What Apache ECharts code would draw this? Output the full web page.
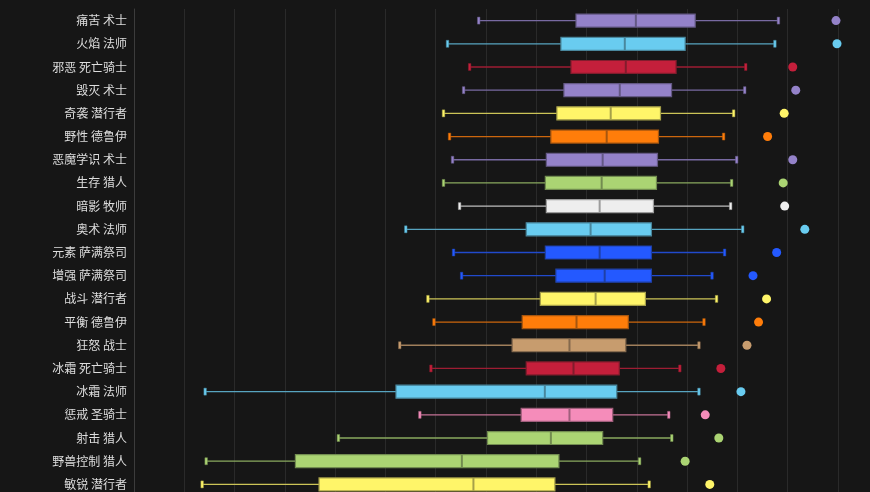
<!DOCTYPE html>
<html>
<head>
<meta charset="utf-8">
<script src="https://cdn.jsdelivr.net/npm/echarts@6/dist/echarts.min.js"></script>
<style>
html,body{margin:0;padding:0;background:#161616;overflow:hidden;}
#chart{width:870px;height:500px;}
</style>
</head>
<body>
<div id="chart"></div>
<script>
const categories = ['痛苦 术士','火焰 法师','邪恶 死亡骑士','毁灭 术士','奇袭 潜行者','野性 德鲁伊','恶魔学识 术士','生存 猎人','暗影 牧师','奥术 法师','元素 萨满祭司','增强 萨满祭司','战斗 潜行者','平衡 德鲁伊','狂怒 战士','冰霜 死亡骑士','冰霜 法师','惩戒 圣骑士','射击 猎人','野兽控制 猎人','敏锐 潜行者'];
const lowValues =     [68.5, 62.3, 66.7, 65.5, 61.5, 62.7, 63.3, 61.5, 64.7, 54.0, 63.5, 65.1, 58.4, 59.6, 52.8, 59.0, 14.1, 56.8, 40.6, 14.3, 13.5];
const q1Values =      [87.9, 84.9, 86.9, 85.5, 84.1, 82.9, 82.0, 81.8, 82.0, 78.0, 81.8, 83.9, 80.8, 77.2, 75.2, 78.0, 52.1, 77.0, 70.3, 32.1, 36.8];
const medianValues =  [99.8, 97.6, 97.8, 96.6, 94.8, 94.0, 93.2, 93.0, 92.6, 90.8, 92.6, 93.6, 91.8, 88.0, 86.6, 87.4, 81.7, 86.6, 82.9, 65.2, 67.5];
const q3Values =      [111.6, 109.6, 107.8, 106.9, 104.7, 104.3, 104.1, 103.9, 103.3, 102.9, 102.9, 102.9, 101.7, 98.3, 97.8, 96.5, 96.0, 95.2, 93.2, 84.5, 83.7];
const highValues =    [128.2, 127.5, 121.7, 121.5, 119.3, 117.3, 119.9, 118.9, 118.7, 121.1, 117.5, 115.0, 115.9, 113.4, 112.4, 108.6, 112.4, 106.4, 107.0, 100.6, 102.5];
const outlierValues = [139.6, 139.8, 131.0, 131.6, 129.3, 126.0, 131.0, 129.1, 129.4, 133.4, 127.8, 123.1, 125.8, 124.2, 121.9, 116.7, 120.7, 113.6, 116.3, 109.6, 114.5];
const rowColors = ['#9482C9','#69CCF0','#C41F3B','#9482C9','#FFF569','#FF7D0A','#9482C9','#ABD473','#EEEEEE','#69CCF0','#2459FF','#2459FF','#FFF569','#FF7D0A','#C79C6E','#C41F3B','#69CCF0','#F58CBA','#ABD473','#ABD473','#FFF569'];

const BG = '#161616';
function mix(hex, f) {
  const c = parseInt(hex.slice(1), 16);
  const b = parseInt(BG.slice(1), 16);
  const ch = (s) => Math.round(((c >> s) & 255) * f + ((b >> s) & 255) * (1 - f));
  return 'rgb(' + ch(16) + ',' + ch(8) + ',' + ch(0) + ')';
}

const boxData = categories.map((c, i) => [i, lowValues[i], q1Values[i], medianValues[i], q3Values[i], highValues[i]]);
const outlierData = categories.map((c, i) => ({ value: [outlierValues[i], i], itemStyle: { color: rowColors[i], opacity: 1 } }));

function renderItem(params, api) {
  const i = api.value(0);
  const lo = api.coord([api.value(1), i]);
  const q1 = api.coord([api.value(2), i]);
  const md = api.coord([api.value(3), i]);
  const q3 = api.coord([api.value(4), i]);
  const hi = api.coord([api.value(5), i]);
  const band = api.size([0, 1])[1];
  const h = band * 0.56;
  const y = lo[1];
  const col = rowColors[i];
  const dark = mix(col, 0.62);
  const wcol = mix(col, 0.78);
  const capH = 7;
  return {
    type: 'group',
    children: [
      { type: 'line', shape: { x1: lo[0], y1: y, x2: q1[0], y2: y }, style: { stroke: wcol, lineWidth: 1.3 } },
      { type: 'line', shape: { x1: q3[0], y1: y, x2: hi[0], y2: y }, style: { stroke: wcol, lineWidth: 1.3 } },
      { type: 'rect', shape: { x: lo[0] - 1, y: y - capH / 2, width: 2.5, height: capH }, style: { fill: col, stroke: dark, lineWidth: 0.5 } },
      { type: 'rect', shape: { x: hi[0] - 1.5, y: y - capH / 2, width: 2.5, height: capH }, style: { fill: col, stroke: dark, lineWidth: 0.5 } },
      { type: 'rect', shape: { x: q1[0], y: y - h / 2, width: q3[0] - q1[0], height: h }, style: { fill: col, stroke: dark, lineWidth: 1.2 } },
      { type: 'line', shape: { x1: md[0], y1: y - h / 2, x2: md[0], y2: y + h / 2 }, style: { stroke: dark, lineWidth: 2 } }
    ]
  };
}

const chart = echarts.init(document.getElementById('chart'));
chart.setOption({
  backgroundColor: BG,
  animation: false,
  grid: { left: 134, right: 32, top: 9, bottom: 4 },
  xAxis: {
    type: 'value', min: 0, max: 140, interval: 10,
    axisLine: { show: false }, axisTick: { show: false }, axisLabel: { show: false },
    splitLine: { lineStyle: { color: '#2a2a2a', width: 1 } }
  },
  yAxis: {
    type: 'category', data: categories, inverse: true,
    axisLine: { lineStyle: { color: '#3c3c3c' } },
    axisTick: { length: 4, lineStyle: { color: '#3c3c3c' } },
    axisLabel: { color: '#dddddd', fontSize: 12, margin: 7, fontFamily: '"Noto Sans CJK SC", sans-serif' },
    splitLine: { show: false }
  },
  series: [
    { type: 'custom', renderItem: renderItem, data: boxData, encode: { x: [1, 2, 3, 4, 5], y: 0 } },
    { type: 'scatter', data: outlierData, symbolSize: 9, itemStyle: { opacity: 1 } }
  ]
});
</script>
</body>
</html>
